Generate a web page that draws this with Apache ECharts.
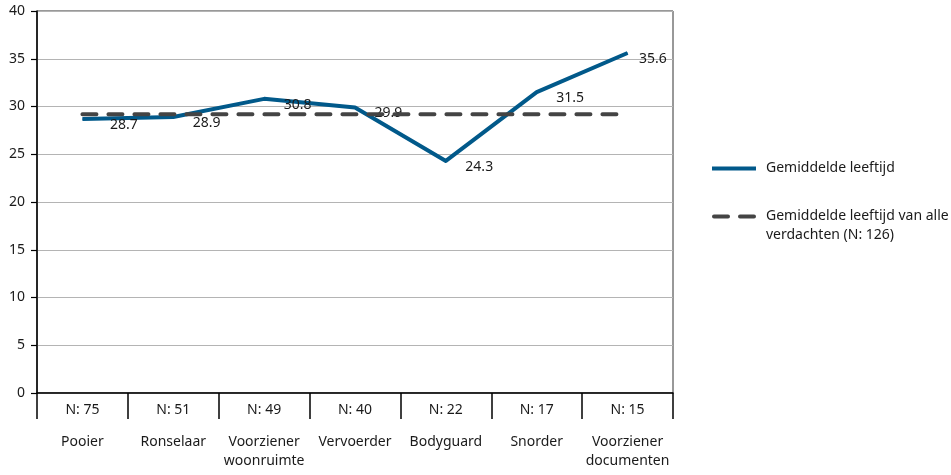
<!DOCTYPE html>
<html>
<head>
<meta charset="utf-8">
<script src="https://cdn.jsdelivr.net/npm/echarts@6/dist/echarts.min.js"></script>
<style>
  html, body { margin: 0; padding: 0; background: #fff; }
  #chart { width: 951px; height: 475px; }
</style>
</head>
<body>
<div id="chart"></div>
<script>
// Categories (roles) and their group sizes
const categories = ['Pooier', 'Ronselaar', 'Voorziener\nwoonruimte', 'Vervoerder', 'Bodyguard', 'Snorder', 'Voorziener\ndocumenten'];
const groupSizes = ['N: 75', 'N: 51', 'N: 49', 'N: 40', 'N: 22', 'N: 17', 'N: 15'];

// Mean age per role
const meanAge = [28.7, 28.9, 30.8, 29.9, 24.3, 31.5, 35.6];
// Mean age of all suspects (N: 126)
const overallMean = 29.2;
const overallLine = categories.map(() => overallMean);

const seriesNames = ['Gemiddelde leeftijd', 'Gemiddelde leeftijd van alle\nverdachten (N: 126)'];

const FONT = 'Noto Sans';
const BLUE = '#01598a';
const GREY = '#444';

// Horizontal nudges for the value labels at the two ends of the line
const labelNudge = [8, 0, 0, 0, 0, 0, -8];

// Legend keys (49 x 23 box, 44 px drawn): a solid bar in the middle, and a
// pair of dashes on the first text line. Zero-length segments pin the box corners.
const solidIcon = 'path://M0,0L0,0 M49,23L49,23 M0,9.5H44V13.5H0Z';
const dashIcon = 'path://M0,0L0,0 M49,23L49,23 M2,0H16A2,2 0 0 1 16,4H2A2,2 0 0 1 2,0Z M28,0H42A2,2 0 0 1 42,4H28A2,2 0 0 1 28,0Z';

const chart = echarts.init(document.getElementById('chart'), null, { renderer: 'canvas' });

chart.setOption({
  animation: false,
  textStyle: { fontFamily: FONT, color: '#1a1a1a' },
  grid: {
    left: 37, right: 278, top: 11, bottom: 82,
    show: true, borderColor: '#333', borderWidth: 1, backgroundColor: 'transparent'
  },
  legend: {
    orient: 'vertical',
    left: 712,
    top: 157,
    padding: 0,
    itemWidth: 49,
    itemHeight: 23,
    itemGap: 27,
    textStyle: { fontFamily: FONT, fontSize: 14, color: '#1a1a1a', lineHeight: 19 },
    data: [
      { name: seriesNames[0], icon: solidIcon },
      { name: seriesNames[1], icon: dashIcon }
    ]
  },
  xAxis: [
    {
      type: 'category',
      data: groupSizes,
      boundaryGap: true,
      axisLine: { show: true, lineStyle: { color: '#000', width: 1.5 } },
      axisTick: { show: true, length: 26, alignWithLabel: false, lineStyle: { color: '#000', width: 1.5 } },
      axisLabel: { margin: 8, fontSize: 14, color: '#1a1a1a', lineHeight: 19, interval: 0 },
      splitLine: { show: false }
    },
    {
      type: 'category',
      data: categories,
      position: 'bottom',
      boundaryGap: true,
      axisLine: { show: false },
      axisTick: { show: false },
      axisLabel: { margin: 40, fontSize: 14, color: '#1a1a1a', lineHeight: 19, interval: 0 },
      splitLine: { show: false }
    }
  ],
  yAxis: {
    type: 'value',
    min: 0, max: 40, interval: 5,
    axisLine: { show: true, lineStyle: { color: '#000', width: 1.5 } },
    axisTick: { show: true, inside: false, length: 6, lineStyle: { color: '#000', width: 1.2 } },
    axisLabel: { margin: 12, fontSize: 14, color: '#1a1a1a' },
    splitLine: { show: true, lineStyle: { color: '#b4b4b4', width: 1 } }
  },
  series: [
    {
      name: seriesNames[0],
      type: 'line',
      data: meanAge.map((v, i) => ({ value: v, label: { offset: [labelNudge[i], 6] } })),
      symbol: 'circle',
      symbolSize: 1,
      showSymbol: true,
      z: 2,
      lineStyle: { color: BLUE, width: 4, join: 'round' },
      itemStyle: { color: BLUE },
      label: {
        show: true,
        position: 'right',
        distance: 19,
        offset: [0, 6],
        fontFamily: FONT,
        fontSize: 14,
        color: '#1a1a1a',
        formatter: p => p.value.toFixed(1)
      }
    },
    {
      name: seriesNames[1],
      type: 'line',
      data: overallLine,
      symbol: 'none',
      z: 3,
      lineStyle: { color: GREY, width: 4, type: [14, 12], cap: 'round' },
      itemStyle: { color: GREY }
    }
  ]
});
</script>
</body>
</html>
